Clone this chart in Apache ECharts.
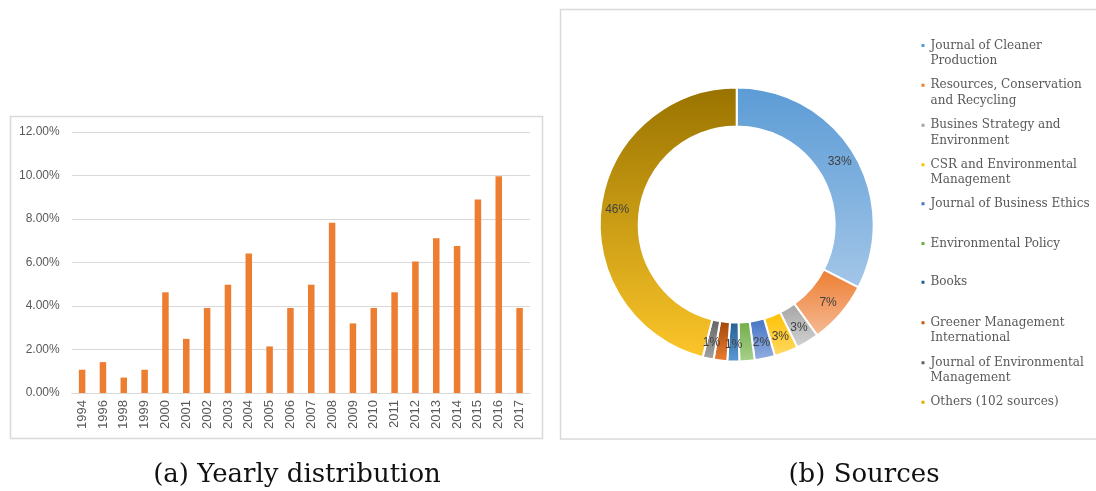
<!DOCTYPE html>
<html>
<head>
<meta charset="utf-8">
<title>Yearly distribution and sources</title>
<script src="https://cdn.jsdelivr.net/npm/echarts@6/dist/echarts.min.js"></script>
<style>
  html, body { margin: 0; padding: 0; background: #ffffff; }
  #chart { width: 1096px; height: 491px; }
</style>
</head>
<body>
<div id="chart"></div>
<script>
// (a) share of publications per year, in percent
const years = ['1994', '1996', '1998', '1999', '2000', '2001', '2002', '2003', '2004', '2005', '2006',
  '2007', '2008', '2009', '2010', '2011', '2012', '2013', '2014', '2015', '2016', '2017'];
const yearShare = [1.07, 1.42, 0.71, 1.07, 4.63, 2.49, 3.91, 4.98, 6.41, 2.14, 3.91,
  4.98, 7.83, 3.20, 3.91, 4.63, 6.05, 7.12, 6.76, 8.90, 9.96, 3.91];
const yTicks = [0, 2, 4, 6, 8, 10, 12];

// (b) share of publications per source, in percent
const sources = ['Journal of Cleaner Production', 'Resources, Conservation and Recycling',
  'Busines Strategy and Environment', 'CSR and Environmental Management',
  'Journal of Business Ethics', 'Environmental Policy', 'Books',
  'Greener Management International', 'Journal of Environmental Management',
  'Others (102 sources)'];
const sourceLegendText = ['Journal of Cleaner\nProduction', 'Resources, Conservation\nand Recycling',
  'Busines Strategy and\nEnvironment', 'CSR and Environmental\nManagement',
  'Journal of Business Ethics', 'Environmental Policy', 'Books',
  'Greener Management\nInternational', 'Journal of Environmental\nManagement',
  'Others (102 sources)'];
const sourceShare = [32.6, 7.4, 2.7, 2.8, 2.4, 1.8, 1.4, 1.6, 1.3, 46.0];

// slice fills: top colour -> bottom colour; third entry is the legend marker colour
const slicePalette = [
  ['#5b9bd5', '#a3c6e8', '#5b9bd5'], ['#ed7d31', '#f6bb95', '#ed7d31'],
  ['#a5a5a5', '#d2d2d2', '#a5a5a5'], ['#ffc000', '#ffd966', '#ffc000'],
  ['#4472c4', '#95b0e0', '#4472c4'], ['#70ad47', '#a9d18e', '#70ad47'],
  ['#255e91', '#5b9bd5', '#255e91'], ['#9e480e', '#ed7d31', '#c55a11'],
  ['#636363', '#a5a5a5', '#636363'], ['#997300', '#fcc62a', '#e0a800']
];
// vertical position (px) of each legend entry's first text line
const legendLineY = [45.5, 85.2, 125.2, 164.8, 203.8, 243.5, 282.2, 322.8, 362.8, 402.2];

const chart = echarts.init(document.getElementById('chart'), null, { renderer: 'canvas' });

const LH = 15.5;
const legends = sources.map(function (name, i) {
  const twoLines = sourceLegendText[i].indexOf('\n') >= 0;
  // a blank leading line keeps the marker level with the first line of a wrapped name
  const shown = twoLines ? ' \n' + sourceLegendText[i] : sourceLegendText[i];
  return {
    data: [{ name: name, itemStyle: { color: slicePalette[i][2] } }],
    orient: 'vertical',
    left: 919.5,
    top: legendLineY[i] - (twoLines ? 1.5 : 0.5) * LH,
    padding: 0,
    itemWidth: 5,
    itemHeight: 5,
    icon: 'rect',
    selectedMode: false,
    formatter: function () { return shown; },
    textStyle: {
      fontFamily: 'DejaVu Serif',
      fontSize: 12,
      color: '#595959',
      lineHeight: LH
    }
  };
});

const pieData = sources.map(function (name, i) {
  return {
    name: name,
    value: sourceShare[i],
    itemStyle: {
      color: {
        type: 'linear', x: 0, y: 0, x2: 0, y2: 1,
        colorStops: [
          { offset: 0, color: slicePalette[i][0] },
          { offset: 1, color: slicePalette[i][1] }
        ]
      }
    }
  };
});

chart.setOption({
  animation: false,
  backgroundColor: '#ffffff',
  legend: legends,
  grid: { left: 71.7, right: 566, top: 132, bottom: 98, containLabel: false },
  xAxis: {
    type: 'category',
    data: years,
    axisLine: { show: true, lineStyle: { color: '#d9d9d9', width: 1 } },
    axisTick: { show: false },
    axisLabel: {
      rotate: 90,
      margin: 7,
      fontFamily: 'Liberation Sans',
      fontSize: 13,
      color: '#595959',
      interval: 0
    }
  },
  yAxis: {
    type: 'value',
    min: yTicks[0],
    max: yTicks[yTicks.length - 1],
    interval: yTicks[1] - yTicks[0],
    axisLine: { show: false },
    axisTick: { show: false },
    splitLine: { lineStyle: { color: '#d9d9d9', width: 1 } },
    axisLabel: {
      margin: 12,
      fontFamily: 'Liberation Sans',
      fontSize: 12,
      color: '#595959',
      formatter: function (v) { return v.toFixed(2) + '%'; }
    }
  },
  series: [
    {
      type: 'bar',
      data: yearShare,
      barWidth: 6.5,
      itemStyle: { color: '#ed7d31' },
      silent: true
    },
    {
      type: 'pie',
      center: [736.7, 224.5],
      radius: [98, 137],
      startAngle: 90,
      clockwise: true,
      avoidLabelOverlap: false,
      silent: true,
      itemStyle: { borderColor: '#ffffff', borderWidth: 2 },
      label: {
        show: true,
        position: 'inside',
        fontFamily: 'Liberation Sans',
        fontSize: 12,
        color: '#404040',
        formatter: function (p) { return Math.round(p.value) + '%'; }
      },
      labelLine: { show: false },
      data: pieData
    }
  ],
  graphic: [
    {
      type: 'rect', silent: true, z: -1,
      shape: { x: 10.5, y: 116.5, width: 532, height: 322 },
      style: { fill: 'none', stroke: '#d9d9d9', lineWidth: 1.5 }
    },
    {
      type: 'rect', silent: true, z: -1,
      shape: { x: 560.5, y: 9.5, width: 545, height: 429.5 },
      style: { fill: 'none', stroke: '#d9d9d9', lineWidth: 1.5 }
    },
    {
      type: 'text', silent: true,
      x: 297, y: 475.5,
      style: {
        text: '(a) Yearly distribution',
        align: 'center', verticalAlign: 'middle',
        font: '26px "DejaVu Serif"', fill: '#111111'
      }
    },
    {
      type: 'text', silent: true,
      x: 864, y: 475.5,
      style: {
        text: '(b) Sources',
        align: 'center', verticalAlign: 'middle',
        font: '26px "DejaVu Serif"', fill: '#111111'
      }
    }
  ]
});
</script>
</body>
</html>
